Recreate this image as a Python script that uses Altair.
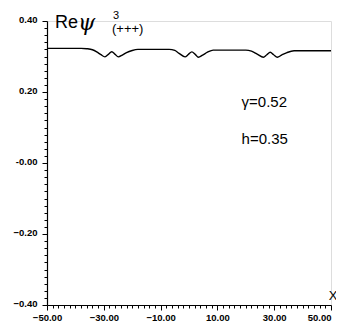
import altair as alt
import pandas as pd

# Curve samples
xs = [-50, -44, -38, -36, -34, -32.5, -31, -29.6, -28.4, -27.2, -26, -24.9, -23.5, -22, -20, -18,
      -12, -7, -5, -3.5, -1.4, -0.2, 1.0, 2.2, 3.3, 4.8, 6.5, 8.5,
      14, 20, 22, 24, 26.2, 27.4, 28.6, 29.8, 31.1, 32.6, 34.5, 37, 44, 50]
ys = [0.323, 0.323, 0.323, 0.322, 0.319, 0.313, 0.305, 0.299, 0.306, 0.3135, 0.306, 0.299, 0.304, 0.311, 0.317, 0.320,
      0.320, 0.320, 0.317, 0.309, 0.299, 0.306, 0.313, 0.306, 0.298, 0.304, 0.312, 0.318,
      0.318, 0.318, 0.315, 0.307, 0.298, 0.305, 0.312, 0.305, 0.298, 0.304, 0.311, 0.316, 0.316, 0.316]

x_ticks = list(range(-50, 51, 2))
y_ticks = [round(-0.4 + 0.02 * i, 2) for i in range(41)]

ann_text = ["γ=0.52", "h=0.35"]
ann_x = [18.5, 18.5]
ann_y = [0.173, 0.068]

df = pd.DataFrame({"x": xs, "y": ys})
ann = pd.DataFrame({"t": ann_text, "x": ann_x, "y": ann_y})

FONT = "Liberation Sans"

xscale = alt.Scale(domain=[-50, 50], nice=False, zero=False)
yscale = alt.Scale(domain=[-0.4, 0.4], nice=False, zero=False)

xaxis = alt.Axis(
    values=x_ticks, title=None, grid=False,
    labelExpr="(datum.value + 50) % 20 == 0 ? format(datum.value, '.2f') : ''",
    labelFont=FONT, labelFontWeight="bold", labelFontSize=9.5, labelColor="black",
    labelPadding=2, labelOverlap=False, labelFlush=False, labelBound=False,
    labelAlign={"condition": {"test": "datum.value == 50", "value": "right"}, "value": "center"},
    tickColor="black", tickWidth=1,
    tickSize={"condition": {"test": "(datum.value + 50) % 20 == 0", "value": 5}, "value": 3},
    domainColor="black", domainWidth=1.2,
)
yaxis = alt.Axis(
    values=y_ticks, title=None, grid=False,
    labelExpr="abs(round(datum.value * 100)) % 20 == 0 ? (round(datum.value*100) == 0 ? '-0.00' : format(datum.value, '.2f')) : ''",
    labelFont=FONT, labelFontWeight="bold", labelFontSize=9.5, labelColor="black",
    labelPadding=5, labelOverlap=False, labelOffset=-2, labelFlush=False, labelBound=False,
    tickColor="black", tickWidth=1,
    tickSize={"condition": {"test": "abs(round(datum.value * 100)) % 20 == 0", "value": 5}, "value": 3},
    domainColor="black", domainWidth=1.2,
)

line = alt.Chart(df).mark_line(color="black", strokeWidth=1.4, interpolate="monotone").encode(
    x=alt.X("x:Q", scale=xscale, axis=xaxis),
    y=alt.Y("y:Q", scale=yscale, axis=yaxis),
)

annot = alt.Chart(ann).mark_text(font=FONT, fontSize=15, align="left", baseline="middle", color="black").encode(
    x=alt.X("x:Q", scale=xscale, axis=xaxis),
    y=alt.Y("y:Q", scale=yscale, axis=yaxis),
    text="t:N",
)

title_re = alt.Chart(pd.DataFrame({"t": ["Re"]})).mark_text(
    font=FONT, fontSize=18, align="left", baseline="alphabetic", color="black"
).encode(x=alt.value(8), y=alt.value(7), text="t:N")
title_psi = alt.Chart(pd.DataFrame({"t": ["ψ"]})).mark_text(
    font="DejaVu Serif", fontSize=22, fontStyle="italic", align="left", baseline="alphabetic", color="black"
).encode(x=alt.value(31), y=alt.value(9), text="t:N")
title_sup = alt.Chart(pd.DataFrame({"t": ["3"]})).mark_text(
    font=FONT, fontSize=11, align="left", baseline="alphabetic", color="black"
).encode(x=alt.value(66), y=alt.value(-2), text="t:N")
title_sub = alt.Chart(pd.DataFrame({"t": ["(+++)"]})).mark_text(
    font=FONT, fontSize=13, align="left", baseline="alphabetic", color="black"
).encode(x=alt.value(65), y=alt.value(12), text="t:N")
xlabel = alt.Chart(pd.DataFrame({"t": ["X"]})).mark_text(
    font=FONT, fontSize=13, align="center", baseline="middle", color="black"
).encode(x=alt.value(286), y=alt.value(275), text="t:N")

chart = alt.layer(line, annot, title_re, title_psi, title_sup, title_sub, xlabel).properties(
    width=284, height=284,
    autosize=alt.AutoSizeParams(type="none"),
    padding={"left": 39, "top": 13, "right": 5, "bottom": 16},
).configure_view(strokeWidth=0, stroke="transparent").configure(background="white")

chart.save("out.html", embed_options={"renderer": "svg", "actions": False})
